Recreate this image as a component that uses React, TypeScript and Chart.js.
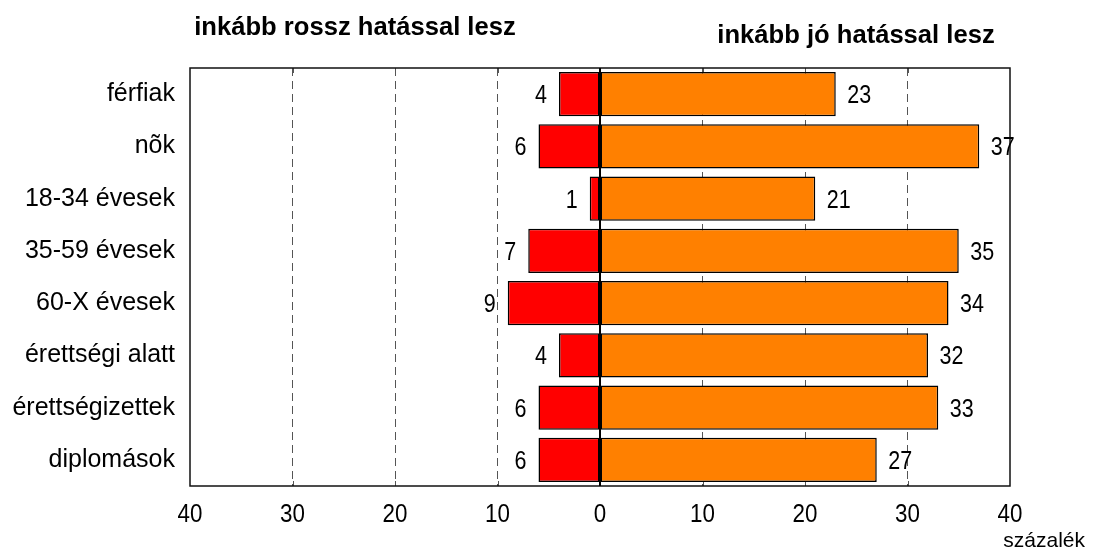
import React, { useEffect, useRef } from "react";
import { Chart, registerables } from "chart.js";

Chart.register(...registerables);

const categories = [
  "férfiak",
  "nõk",
  "18-34 évesek",
  "35-59 évesek",
  "60-X évesek",
  "érettségi alatt",
  "érettségizettek",
  "diplomások",
];
const negativeValues = [4, 6, 1, 7, 9, 4, 6, 6];
const positiveValues = [23, 37, 21, 35, 34, 32, 33, 27];
const xTickValues = [-40, -30, -20, -10, 0, 10, 20, 30, 40];
const titleLeft = "inkább rossz hatással lesz";
const titleRight = "inkább jó hatással lesz";
const unitLabel = "százalék";

const FONT = "'Liberation Sans', Arial, sans-serif";
const NARROW = 0.86;

function narrowText(ctx: CanvasRenderingContext2D, text: string, x: number, y: number) {
  ctx.save();
  ctx.translate(x, y);
  ctx.scale(NARROW, 1);
  ctx.fillText(text, 0, 0);
  ctx.restore();
}

const decorPlugin = {
  id: "decor",
  beforeDatasetsDraw(chart: any) {
    const { ctx, chartArea, scales } = chart;
    const xs = scales.x;
    ctx.save();
    ctx.strokeStyle = "#555";
    ctx.lineWidth = 1;
    for (const v of [-30, -20, -10, 10, 20, 30]) {
      const px = Math.round(xs.getPixelForValue(v)) + 0.5;
      ctx.beginPath();
      ctx.moveTo(px, chartArea.top);
      ctx.lineTo(px, chartArea.top + 5);
      ctx.moveTo(px, chartArea.bottom);
      ctx.lineTo(px, chartArea.bottom - 5);
      ctx.stroke();
    }
    ctx.restore();
  },
  afterDatasetsDraw(chart: any) {
    const { ctx, chartArea, scales } = chart;
    const xs = scales.x;
    ctx.save();
    // frame
    ctx.strokeStyle = "#111";
    ctx.lineWidth = 1.5;
    ctx.strokeRect(chartArea.left, chartArea.top, chartArea.right - chartArea.left, chartArea.bottom - chartArea.top);
    // zero line
    const z = xs.getPixelForValue(0);
    ctx.strokeStyle = "#000";
    ctx.lineWidth = 2;
    ctx.beginPath();
    ctx.moveTo(z, chartArea.top);
    ctx.lineTo(z, chartArea.bottom);
    ctx.stroke();

    // value labels
    ctx.fillStyle = "#000";
    ctx.font = `25px ${FONT}`;
    ctx.textBaseline = "alphabetic";
    chart.data.datasets.forEach((ds: any, di: number) => {
      const meta = chart.getDatasetMeta(di);
      meta.data.forEach((bar: any, i: number) => {
        const v = ds.data[i];
        if (v < 0) {
          ctx.textAlign = "right";
          narrowText(ctx, String(-v), bar.x - 12, bar.y + 9);
        } else {
          ctx.textAlign = "left";
          narrowText(ctx, String(v), bar.x + 11.5, bar.y + 9);
        }
      });
    });

    // x tick labels
    ctx.font = `26px ${FONT}`;
    ctx.textAlign = "center";
    for (const v of xTickValues) {
      narrowText(ctx, String(Math.abs(v)), xs.getPixelForValue(v), 522);
    }

    // titles
    ctx.font = `bold 25.6px ${FONT}`;
    ctx.textAlign = "center";
    ctx.fillText(titleLeft, 355, 35);
    ctx.fillText(titleRight, 856, 43);

    // unit label
    ctx.font = `21px ${FONT}`;
    ctx.textAlign = "right";
    ctx.fillText(unitLabel, 1085, 547);
    ctx.restore();
  },
};

export default function App() {
  const ref = useRef<HTMLCanvasElement | null>(null);
  useEffect(() => {
    document.body.style.margin = "0";
    const chart = new Chart(ref.current as HTMLCanvasElement, {
      type: "bar",
      data: {
        labels: categories,
        datasets: [
          {
            data: negativeValues.map((v) => -v),
            backgroundColor: "#FF0000",
            borderColor: "#000",
            borderWidth: 1.5,
            borderSkipped: false,
            barPercentage: 0.85,
            categoryPercentage: 1,
          },
          {
            data: positiveValues,
            backgroundColor: "#FF8000",
            borderColor: "#000",
            borderWidth: 1.5,
            borderSkipped: false,
            barPercentage: 0.85,
            categoryPercentage: 1,
          },
        ],
      },
      options: {
        indexAxis: "y",
        animation: false,
        responsive: true,
        maintainAspectRatio: false,
        layout: { padding: { top: 68, right: 86, left: 0, bottom: 0 } },
        plugins: { legend: { display: false }, tooltip: { enabled: false } },
        scales: {
          x: {
            stacked: true,
            min: -40,
            max: 40,
            border: { display: false, dash: [8, 5] },
            ticks: {
              stepSize: 10,
              display: false,
            },
            grid: {
              drawTicks: false,
              color: (c: any) => {
                const v = c.tick ? c.tick.value : 0;
                return v === 0 || Math.abs(v) === 40 ? "rgba(0,0,0,0)" : "#555";
              },
              lineWidth: 1,
            },
            afterFit: (s: any) => {
              s.height = 551 - 486;
            },
          },
          y: {
            stacked: true,
            border: { display: false },
            grid: { display: false, drawTicks: false },
            ticks: {
              color: "#000",
              font: { family: FONT, size: 25 },
              padding: 15,
            },
            afterFit: (s: any) => {
              s.width = 190;
            },
          },
        },
      },
      plugins: [decorPlugin],
    } as any);
    return () => chart.destroy();
  }, []);
  return (
    <div style={{ position: "absolute", left: 0, top: 0, width: 1096, height: 551 }}>
      <canvas ref={ref} />
    </div>
  );
}
